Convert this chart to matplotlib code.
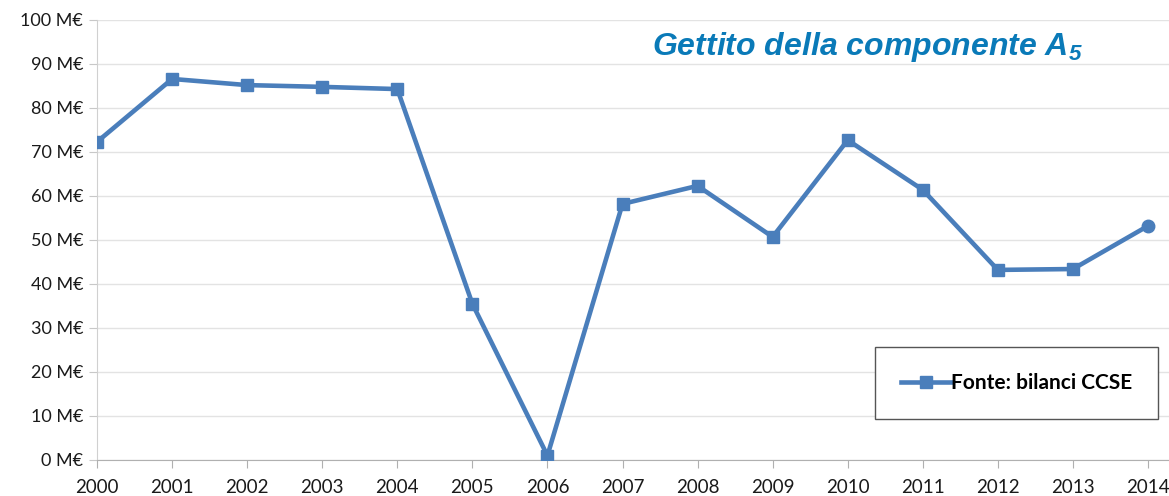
import matplotlib
matplotlib.use("Agg")
import matplotlib.pyplot as plt

years = [2000, 2001, 2002, 2003, 2004, 2005, 2006, 2007,
         2008, 2009, 2010, 2011, 2012, 2013, 2014]
gettito = [72.3, 86.6, 85.2, 84.8, 84.3, 35.5, 1.0, 58.2,
           62.3, 50.7, 72.7, 61.4, 43.2, 43.4, 53.2]
y_ticks = [0, 10, 20, 30, 40, 50, 60, 70, 80, 90, 100]
y_labels = [f"{v} M€" for v in y_ticks]
serie = "Fonte: bilanci CCSE"
titolo = "Gettito della componente A$_5$"

blu = "#4a7ebb"

plt.rcParams["mathtext.fontset"] = "custom"
plt.rcParams["mathtext.rm"] = "Liberation Sans:bold:italic"
plt.rcParams["mathtext.it"] = "Liberation Sans:bold:italic"

fig = plt.figure(figsize=(11.69, 4.96), dpi=100)
ax = fig.add_axes([0.083, 0.0726, 0.917, 0.8871])

ax.plot(years[:-1], gettito[:-1], color=blu, lw=3.3, marker="s", ms=9,
        label=serie, zorder=3)
ax.plot(years[-2:], gettito[-2:], color=blu, lw=3.3, zorder=3)
ax.plot(years[-1:], gettito[-1:], color=blu, marker="o", ms=9, ls="none", zorder=3)

ax.set_xlim(2000, 2014.28)
ax.set_ylim(0, 100)
ax.set_yticks(y_ticks)
ax.set_yticklabels(y_labels)
ax.set_xticks(years)
ax.set_xticklabels([str(y) for y in years])

for side in ["top", "right"]:
    ax.spines[side].set_visible(False)
ax.spines["left"].set_color("#d0d0d0")
ax.spines["bottom"].set_color("#b0b0b0")
ax.yaxis.grid(True, color="#e3e3e3", lw=1)
ax.set_axisbelow(True)
ax.tick_params(axis="y", length=6, color="#c8c8c8", labelsize=13, pad=4)
ax.tick_params(axis="x", length=6, color="#b0b0b0", labelsize=13.5, pad=8)
for lab in ax.get_xticklabels() + ax.get_yticklabels():
    lab.set_fontfamily("Lato")
    lab.set_color("#1a1a1a")

fig.text(0.742, 0.905, titolo, color="#0a7ab8", fontsize=23,
         fontweight="bold", fontstyle="italic", family="Liberation Sans",
         ha="center", va="center")

leg = ax.legend(loc="center", bbox_to_anchor=(0.858, 0.174), frameon=True,
                fancybox=False, handlelength=2.4, handletextpad=0.0,
                borderpad=1.25, borderaxespad=0,
                prop={"family": "Lato", "weight": "bold", "size": 15})
leg.get_frame().set_edgecolor("#555555")
leg.get_frame().set_linewidth(1)
leg.get_frame().set_alpha(1)

fig.savefig("out.png", dpi=100)
